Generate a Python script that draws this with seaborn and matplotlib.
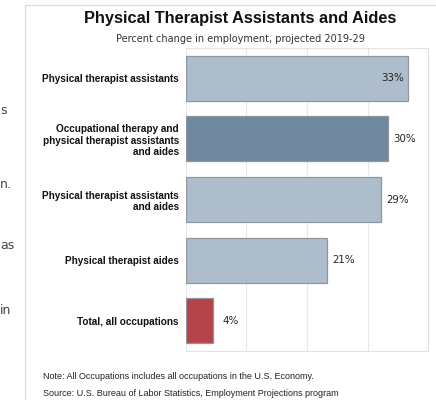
import numpy as np
import pandas as pd
import matplotlib
matplotlib.use('Agg')
import matplotlib.pyplot as plt
import seaborn as sns

# data
occupations = [
    'Physical therapist assistants',
    'Occupational therapy and\nphysical therapist assistants\nand aides',
    'Physical therapist assistants\nand aides',
    'Physical therapist aides',
    'Total, all occupations',
]
pct_change = [33, 30, 29, 21, 4]
value_labels = ['33%', '30%', '29%', '21%', '4%']

bar_colors = ['#adbdcb', '#6f889f', '#adbdcb', '#adbdcb', '#b5444a']

title = 'Physical Therapist Assistants and Aides'
subtitle = 'Percent change in employment, projected 2019-29'
note = 'Note: All Occupations includes all occupations in the U.S. Economy.'
source = 'Source: U.S. Bureau of Labor Statistics, Employment Projections program'

# bits of page text cut off at the left edge of the screenshot
edge_text = ['s', 'n.', 'as', 'in']
edge_y = [110, 185, 245, 310]


def main():
    sns.set_style('white')
    plt.rcParams['font.family'] = ['DejaVu Sans']

    df = pd.DataFrame({'occupation': occupations, 'pct': pct_change})

    fig = plt.figure(figsize=(4.36, 4.0), dpi=100)
    ax = fig.add_axes([185.7 / 436, 49 / 400, 242.5 / 436, 303 / 400])

    sns.barplot(data=df, x='pct', y='occupation', hue='occupation', palette=bar_colors,
                orient='h', width=0.745, saturation=1, edgecolor='#8e979f', linewidth=0.9,
                legend=False, ax=ax, zorder=3)

    ax.set_xlim(0, 36)
    ax.set_xticks([0, 9, 18, 27, 36])
    ax.set_xticklabels([])
    ax.tick_params(axis='x', length=0)
    ax.tick_params(axis='y', length=0, pad=5)
    ax.grid(axis='x', color='#e8e8e8', linewidth=0.8, zorder=0)
    ax.set_xlabel('')
    ax.set_ylabel('')
    for lbl in ax.get_yticklabels():
        lbl.set_fontfamily('Liberation Sans')
        lbl.set_fontweight('bold')
        lbl.set_fontsize(7.2)
        lbl.set_color('#111111')
    for side, sp in ax.spines.items():
        sp.set_color('#e2e2e2')
        sp.set_linewidth(0.8)
    ax.spines['left'].set_visible(False)

    for i, (v, t) in enumerate(zip(pct_change, value_labels)):
        if v > 31:
            ax.annotate(t, xy=(v, i), xytext=(-3, 0), textcoords='offset points',
                        ha='right', va='center', fontsize=7.4, color='#222222', zorder=4)
        else:
            pad = 7 if v < 10 else 4
            ax.annotate(t, xy=(v, i), xytext=(pad, 0), textcoords='offset points',
                        ha='left', va='center', fontsize=7.4, color='#222222', zorder=4)

    fig.text(240 / 436, 1 - 19 / 400, title, ha='center', va='center',
             fontsize=11.8, fontweight='bold', family='Liberation Sans', color='#111111')
    fig.text(240.5 / 436, 1 - 38.5 / 400, subtitle, ha='center', va='center',
             fontsize=7.0, color='#333333')

    fig.text(43 / 436, 1 - 376.5 / 400, note, ha='left', va='center',
             fontsize=6.5, family='Liberation Sans', color='#222222')
    fig.text(43 / 436, 1 - 393 / 400, source, ha='left', va='center',
             fontsize=6.5, family='Liberation Sans', color='#222222')

    for t, y in zip(edge_text, edge_y):
        fig.text(0 / 436, 1 - y / 400, t, ha='left', va='center',
                 fontsize=9, color='#444444')

    # frame of the page panel the chart sits in
    fig.add_artist(plt.Line2D([24.5 / 436, 24.5 / 436], [0, 1 - 5 / 400],
                              transform=fig.transFigure, color='#dcdcdc', linewidth=0.9))
    fig.add_artist(plt.Line2D([24.5 / 436, 1], [1 - 5 / 400, 1 - 5 / 400],
                              transform=fig.transFigure, color='#dcdcdc', linewidth=0.9))

    fig.savefig('out.png', dpi=100)


if __name__ == '__main__':
    main()
